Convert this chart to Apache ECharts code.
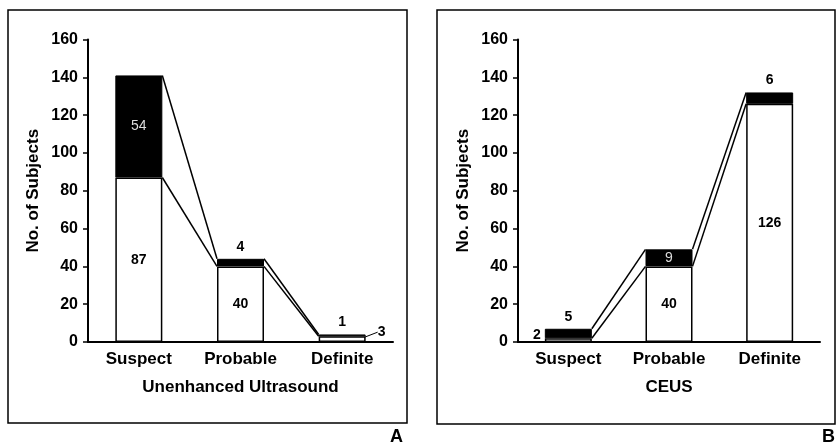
<!DOCTYPE html>
<html>
<head>
<meta charset="utf-8">
<script src="https://cdn.jsdelivr.net/npm/echarts@6/dist/echarts.min.js"></script>
<style>
html,body{margin:0;padding:0;background:#fff;}
#c{width:837px;height:447px;}
</style>
</head>
<body>
<div id="c"></div>
<script>
// ---- data ----
const categories = ['Suspect', 'Probable', 'Definite'];
const usWhite = [87, 40, 3];     // Unenhanced Ultrasound, lower (white) segment
const usBlack = [54, 4, 1];      // Unenhanced Ultrasound, upper (black) segment
const ceusWhite = [2, 40, 126];  // CEUS, lower (white) segment
const ceusBlack = [5, 9, 6];     // CEUS, upper (black) segment
const yMin = 0, yMax = 160, yStep = 20;
const xTitles = ['Unenhanced Ultrasound', 'CEUS'];
const yTitle = 'No. of Subjects';
const panelLetters = ['A', 'B'];

// ---- styles ----
const FONT = '"Liberation Sans", Arial, sans-serif';
const BAR_W = 47;
const usWhiteLabel = [
  {position: 'inside'}, {position: 'inside'},
  {position: 'right', distance: 4}
];
const usBlackLabel = [
  {position: 'inside', color: '#ddd', fontWeight: 'normal'}, {position: 'top'}, {position: 'top'}
];
const ceusWhiteLabel = [
  {position: 'left', distance: 4, offset: [0, -5]}, {position: 'inside'}, {position: 'inside'}
];
const ceusBlackLabel = [
  {position: 'top'}, {position: 'inside', color: '#ddd', fontWeight: 'normal'}, {position: 'top'}
];

function barData(vals, labels) {
  return vals.map((v, i) => ({
    value: v,
    label: Object.assign({show: true, color: '#000', fontWeight: 'bold', fontSize: 14, fontFamily: FONT}, labels[i])
  }));
}

function connectorData(white, black) {
  const out = [];
  for (let i = 0; i < white.length - 1; i++) {
    out.push([i, white[i] + black[i], white[i], white[i + 1] + black[i + 1], white[i + 1]]);
  }
  return out;
}

function renderConnector(params, api) {
  const i = api.value(0);
  const t0 = api.coord([i, api.value(1)]);
  const w0 = api.coord([i, api.value(2)]);
  const t1 = api.coord([i + 1, api.value(3)]);
  const w1 = api.coord([i + 1, api.value(4)]);
  const h = BAR_W / 2;
  const st = {stroke: '#000', lineWidth: 1.5, fill: null};
  return {
    type: 'group',
    children: [
      {type: 'line', shape: {x1: t0[0] + h, y1: t0[1], x2: t1[0] - h, y2: t1[1]}, style: st},
      {type: 'line', shape: {x1: w0[0] + h, y1: w0[1], x2: w1[0] - h, y2: w1[1]}, style: st}
    ]
  };
}

const txt = {color: '#000', fontWeight: 'bold', fontFamily: FONT};

function xAx(idx) {
  return {
    type: 'category', gridIndex: idx, data: categories,
    axisLine: {lineStyle: {color: '#000', width: 2}},
    axisTick: {show: false},
    axisLabel: Object.assign({fontSize: 17, margin: 9}, txt),
    name: xTitles[idx], nameLocation: 'middle', nameGap: 37,
    nameTextStyle: Object.assign({fontSize: 17}, txt)
  };
}
function yAx(idx) {
  return {
    type: 'value', gridIndex: idx, min: yMin, max: yMax, interval: yStep,
    splitLine: {show: false},
    axisLine: {show: true, lineStyle: {color: '#000', width: 2}},
    axisTick: {show: true, length: 5, lineStyle: {color: '#000', width: 1.5}},
    axisLabel: Object.assign({fontSize: 16, margin: 10}, txt),
    name: yTitle, nameLocation: 'middle', nameRotate: 90, nameGap: 46,
    nameTextStyle: Object.assign({fontSize: 17}, txt)
  };
}

function barSeries(idx, white, black, wl, bl, layout) {
  return [
    {type: 'bar', xAxisIndex: idx, yAxisIndex: idx, stack: 's' + idx, barWidth: BAR_W,
     itemStyle: {color: '#fff', borderColor: '#000', borderWidth: 1.5},
     labelLine: {show: true, lineStyle: {color: '#000', width: 1}},
     labelLayout: layout,
     data: barData(white, wl), animation: false},
    {type: 'bar', xAxisIndex: idx, yAxisIndex: idx, stack: 's' + idx, barWidth: BAR_W,
     itemStyle: {color: '#000', borderColor: '#000', borderWidth: 1},
     data: barData(black, bl), animation: false},
    {type: 'custom', xAxisIndex: idx, yAxisIndex: idx, renderItem: renderConnector,
     encode: {x: 0, y: [1, 2, 3, 4]}, data: connectorData(white, black), z: 5, animation: false, silent: true}
  ];
}

const usLayout = function (p) {
  return p.dataIndex === 2 ? {dx: 8, dy: -7} : {};
};

const chart = echarts.init(document.getElementById('c'), null, {renderer: 'canvas'});
chart.setOption({
  animation: false,
  backgroundColor: '#fff',
  grid: [
    {left: 88, top: 39.5, width: 305, height: 302.5},
    {left: 518, top: 39.5, width: 302, height: 302.5}
  ],
  xAxis: [xAx(0), xAx(1)],
  yAxis: [yAx(0), yAx(1)],
  series: [].concat(
    barSeries(0, usWhite, usBlack, usWhiteLabel, usBlackLabel, usLayout),
    barSeries(1, ceusWhite, ceusBlack, ceusWhiteLabel, ceusBlackLabel, null)
  ),
  graphic: [
    {type: 'rect', shape: {x: 8, y: 10, width: 399, height: 413}, style: {fill: null, stroke: '#000', lineWidth: 1.5}, silent: true},
    {type: 'rect', shape: {x: 437, y: 10, width: 398, height: 414}, style: {fill: null, stroke: '#000', lineWidth: 1.5}, silent: true},
    {type: 'text', left: 390, top: 428, style: {text: panelLetters[0], fill: '#000', font: 'bold 18px ' + FONT}},
    {type: 'text', left: 822, top: 428, style: {text: panelLetters[1], fill: '#000', font: 'bold 18px ' + FONT}}
  ]
});
</script>
</body>
</html>
